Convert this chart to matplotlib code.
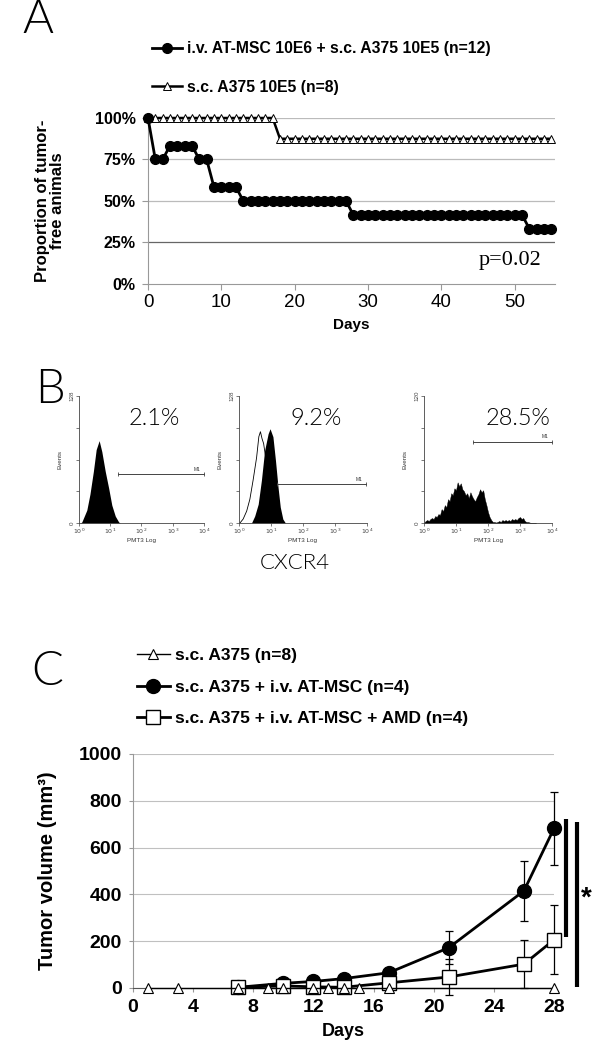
import numpy as np
import matplotlib
matplotlib.use("Agg")
import matplotlib.pyplot as plt
from matplotlib.lines import Line2D

plt.rcParams['font.family'] = ['Liberation Sans', 'DejaVu Sans']

# ---- panel A: tumor-free animals per day ----
days_a = list(range(0, 56))
n_msc = 12
msc_free = [12, 9, 9, 10, 10, 10, 10, 9, 9, 7, 7, 7, 7,
            6, 6, 6, 6, 6, 6, 6, 6, 6, 6, 6, 6, 6, 6, 6,
            5, 5, 5, 5, 5, 5, 5, 5, 5, 5, 5, 5, 5, 5, 5, 5, 5, 5, 5, 5, 5, 5, 5, 5,
            4, 4, 4, 4]
n_ctrl = 8
ctrl_free = [8, 8, 8, 8, 8, 8, 8, 8, 8, 8, 8, 8, 8, 8, 8, 8, 8, 8,
             7, 7, 7, 7, 7, 7, 7, 7, 7, 7, 7, 7, 7, 7, 7, 7, 7, 7, 7, 7, 7,
             7, 7, 7, 7, 7, 7, 7, 7, 7, 7, 7, 7, 7, 7, 7, 7, 7]
label_msc_a = 'i.v. AT-MSC 10E6 + s.c. A375 10E5 (n=12)'
label_ctrl_a = 's.c. A375 10E5 (n=8)'

# ---- panel B: flow cytometry histograms (log10 channel, events) ----
h1_log = [0.05, 0.09, 0.25, 0.35, 0.46, 0.55, 0.645, 0.73, 0.84, 0.95, 1.05, 1.16, 1.27, 1.32]
h1_cnt = [0, 1, 13, 29, 52, 74, 83, 72, 52, 35, 18, 7, 1, 0]

h2_log = [0.39, 0.49, 0.6, 0.7, 0.8, 0.91, 0.97, 1.06, 1.14, 1.22, 1.29, 1.37, 1.45]
h2_cnt = [0, 7, 19, 43, 73, 90, 95, 87, 63, 36, 16, 4, 0]
h2_iso_log = [0.03, 0.13, 0.24, 0.34, 0.44, 0.55, 0.62, 0.67, 0.72, 0.77, 0.86, 0.96, 1.06, 1.16, 1.26]
h2_iso_cnt = [0, 4, 12, 24, 43, 66, 87, 92, 85, 80, 60, 30, 10, 2, 0]

h3_log = np.arange(0.0, 3.51, 0.05)
h3_cnt = [0, 2, 3, 2, 4, 5, 4, 7, 6, 9, 8, 14, 12, 18, 16, 24, 22, 30, 28, 35,
          33, 41, 37, 40, 34, 32, 28, 30, 25, 31, 27, 24, 22, 26, 29, 34, 31, 33,
          24, 18, 11, 6, 3, 1, 1, 0.5, 1, 2, 1, 3, 2, 3, 2, 3, 2, 4, 3, 4, 3, 5,
          6, 4, 5, 2, 1, 1, 0.5, 0, 0, 0, 0]
pct_labels = ['2.1%', '9.2%', '28.5%']
m1_ranges = [(1.26, 4.0, 49), (1.19, 3.97, 39), (1.53, 4.0, 82)]
ymax_labels = ['128', '128', '120']

# ---- panel C: tumor volume ----
days_ctrl = [1, 3, 7, 9, 10, 12, 13, 14, 15, 17, 28]
vol_ctrl = [0, 0, 0, 0, 0, 0, 0, 0, 0, 0, 0]
days_msc = [7, 10, 12, 14, 17, 21, 26, 28]
vol_msc = [3, 20, 28, 40, 65, 172, 415, 682]
err_msc = [3, 8, 8, 10, 20, 70, 128, 155]
days_amd = [7, 10, 12, 14, 17, 21, 26, 28]
vol_amd = [3, 9, 5, 3, 22, 47, 102, 206]
err_amd = [2, 6, 4, 3, 10, 78, 104, 148]
sig_bars = [(28.8, 219, 721), (29.5, 5, 708)]

thin = {'family': ['Lato', 'DejaVu Sans'], 'weight': 300}

fig = plt.figure(figsize=(6, 10.41), dpi=100)


def axes_px(l, t, r, b):
    return fig.add_axes([l / 600, 1 - b / 1041, (r - l) / 600, (b - t) / 1041])


# ================= A =================
axA = axes_px(148, 118, 555, 284)
pa_msc = [v / n_msc for v in msc_free]
pa_ctrl = [v / n_ctrl for v in ctrl_free]
for g in [0.5, 0.75, 1.0]:
    axA.axhline(g, color='#bbbbbb', lw=0.9, zorder=0)
axA.axhline(0.25, color='#666666', lw=0.9, zorder=0)
axA.plot(days_a, pa_ctrl, '-^', color='black', lw=1.8, ms=6, mfc='white',
         mec='black', mew=0.7, clip_on=False, zorder=3)
axA.plot(days_a, pa_msc, '-o', color='black', lw=2, ms=7, clip_on=False, zorder=4)
axA.set_xlim(0, 55.5)
axA.set_ylim(0, 1)
for s in ['top', 'right']:
    axA.spines[s].set_visible(False)
axA.spines['left'].set_color('#999999')
axA.spines['bottom'].set_color('#999999')
axA.set_yticks([0, 0.25, 0.5, 0.75, 1.0])
axA.set_yticklabels(['0%', '25%', '50%', '75%', '100%'], fontsize=11.5, fontweight='bold')
axA.set_xticks([0, 10, 20, 30, 40, 50])
axA.tick_params(axis='x', labelsize=13.5, colors='#999999', length=4, pad=3)
axA.tick_params(axis='y', colors='#999999', length=4, pad=5)
for t in axA.get_xticklabels() + axA.get_yticklabels():
    t.set_color('black')
axA.set_xlabel('Days', fontsize=11, fontweight='bold', labelpad=5)
axA.set_ylabel('Proportion of tumor-\nfree animals', fontsize=12, fontweight='bold',
               labelpad=21, linespacing=1.0)
axA.text(53.7, 0.14, 'p=0.02', family='Liberation Serif', fontsize=16,
         ha='right', va='center')

hA = [Line2D([], [], color='black', lw=2, marker='o', ms=7),
      Line2D([], [], color='black', lw=1.8, marker='^', ms=6, mfc='white', mew=0.7)]
fig.legend(hA, [label_msc_a, label_ctrl_a], loc='upper left',
           bbox_to_anchor=(152 / 600, 1 - 41 / 1041), frameon=False,
           prop={'weight': 'bold', 'size': 11.3}, handlelength=1.9,
           handletextpad=0.35, labelspacing=1.5, borderpad=0, borderaxespad=0)

fig.text(38 / 600, 1 - 20 / 1041, 'A', fontdict=thin, fontsize=34, ha='center', va='center')

# ================= B =================
hist_pos = [(79, 204), (239, 367), (424, 552)]
hist_axes = []
for i, (l, r) in enumerate(hist_pos):
    ax = axes_px(l, 396, r, 523)
    ax.set_xscale('log')
    ax.set_xlim(1, 1e4)
    ax.set_ylim(0, 128)
    for s in ['top', 'right']:
        ax.spines[s].set_visible(False)
    for s in ['left', 'bottom']:
        ax.spines[s].set_linewidth(0.6)
        ax.spines[s].set_color('#444444')
    ax.set_xticks([1, 10, 100, 1000, 10000])
    ax.set_xticklabels([r'$10^0$', r'$10^1$', r'$10^2$', r'$10^3$', r'$10^4$'])
    ax.xaxis.set_minor_locator(matplotlib.ticker.NullLocator())
    ax.set_yticks([0, 32, 64, 96, 128])
    ax.set_yticklabels(['0', '', '', '', ymax_labels[i]], rotation=90, va='center')
    ax.tick_params(labelsize=4.5, length=2, width=0.5, colors='#444444', pad=1)
    ax.set_ylabel('Events', fontsize=4.5, labelpad=5, color='#333333')
    ax.set_xlabel('PMT3 Log', fontsize=4.5, labelpad=1, color='#333333')
    lo, hi, yv = m1_ranges[i]
    ax.plot([10 ** lo, 10 ** hi], [yv, yv], color='#444444', lw=0.7,
            marker='|', ms=3, mew=0.6, clip_on=False)
    ax.text(10 ** (hi - 0.22), yv + 2.5, 'M1', fontsize=3.5, ha='center', va='bottom',
            color='#333333')
    ax.text(10 ** (2.4 if i < 2 else 2.95), 105, pct_labels[i], fontdict=thin,
            fontsize=17, ha='center', va='center')
    hist_axes.append(ax)

hist_axes[0].fill_between([10 ** v for v in h1_log], h1_cnt, color='black', lw=0)
hist_axes[1].plot([10 ** v for v in h2_iso_log], h2_iso_cnt, color='black', lw=0.6)
hist_axes[1].fill_between([10 ** v for v in h2_log], h2_cnt, color='black', lw=0)
hist_axes[2].fill_between(10 ** h3_log, h3_cnt, color='black', lw=0.3)
hist_axes[1].text(10 ** 1.75, -40, 'CXCR4', fontdict=thin, fontsize=16,
                  ha='center', va='center', clip_on=False)

fig.text(50 / 600, 1 - 390 / 1041, 'B', fontdict=thin, fontsize=34, ha='center', va='center')

# ================= C =================
axC = axes_px(133, 754, 554, 988)
axC.grid(axis='y', color='#c0c0c0', lw=0.8, zorder=0)
axC.set_axisbelow(True)
axC.errorbar(days_msc, vol_msc, yerr=err_msc, fmt='none', ecolor='black',
             elinewidth=0.9, capsize=3, capthick=0.9, zorder=2, clip_on=False)
axC.errorbar(days_amd, vol_amd, yerr=err_amd, fmt='none', ecolor='black',
             elinewidth=0.9, capsize=3, capthick=0.9, zorder=2, clip_on=False)
axC.plot(days_msc, vol_msc, '-o', color='black', lw=2, ms=10, clip_on=False, zorder=3)
axC.plot(days_amd, vol_amd, '-s', color='black', lw=2, ms=10, mfc='white', mew=1,
         clip_on=False, zorder=4)
axC.plot(days_ctrl, vol_ctrl, '-^', color='black', lw=1, ms=7, mfc='white', mew=0.8,
         clip_on=False, zorder=5)
for x, y0, y1 in sig_bars:
    axC.plot([x, x], [y0, y1], color='black', lw=3, clip_on=False, solid_capstyle='butt')
axC.text(30.15, 380, '*', fontsize=20, fontweight='bold', ha='center', va='center')
axC.set_xlim(0, 28)
axC.set_ylim(0, 1000)
for s in ['top', 'right']:
    axC.spines[s].set_visible(False)
axC.spines['left'].set_color('#999999')
axC.spines['bottom'].set_color('#555555')
axC.set_yticks([0, 200, 400, 600, 800, 1000])
axC.set_xticks([0, 4, 8, 12, 16, 20, 24, 28])
axC.tick_params(labelsize=14, length=3, colors='#999999', pad=5)
for t in axC.get_xticklabels() + axC.get_yticklabels():
    t.set_color('black')
    t.set_fontweight('bold')
axC.set_ylabel('Tumor volume (mm³)', fontsize=14.5, fontweight='bold', labelpad=16)
axC.set_xlabel('Days', fontsize=13, fontweight='bold', labelpad=5)

hC = [Line2D([], [], color='black', lw=1, marker='^', ms=7, mfc='white', mew=0.8),
      Line2D([], [], color='black', lw=2, marker='o', ms=10),
      Line2D([], [], color='black', lw=2, marker='s', ms=10, mfc='white', mew=1)]
fig.legend(hC, ['s.c. A375 (n=8)', 's.c. A375 + i.v. AT-MSC (n=4)',
                's.c. A375 + i.v. AT-MSC + AMD (n=4)'],
           loc='upper left', bbox_to_anchor=(137 / 600, 1 - 648 / 1041), frameon=False,
           prop={'weight': 'bold', 'size': 12.5}, handlelength=1.9,
           handletextpad=0.3, labelspacing=0.95, borderpad=0, borderaxespad=0)

fig.text(47 / 600, 1 - 672 / 1041, 'C', fontdict=thin, fontsize=34, ha='center', va='center')

fig.savefig('out.png', dpi=100)
